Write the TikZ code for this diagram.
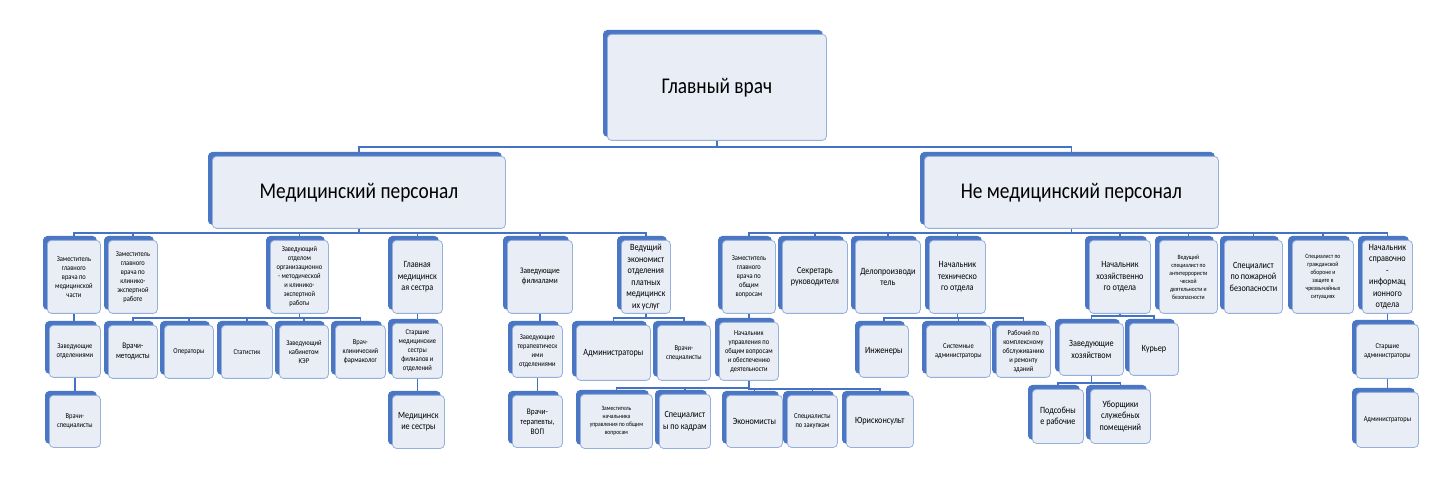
\documentclass[tikz,border=0pt]{standalone}
\usepackage{fontspec}
\setmainfont{Carlito}[FakeStretch=0.86]
\usetikzlibrary{shadows,backgrounds}

\definecolor{cardback}{RGB}{74,118,196}
\definecolor{cardfill}{RGB}{233,237,246}
\definecolor{cardline}{RGB}{150,176,222}
\definecolor{linkblue}{RGB}{68,114,196}

\tikzset{
  txs/.style={font=\fontsize{6.5}{8}\selectfont},
  txm/.style={font=\fontsize{7.5}{9}\selectfont},
  txn/.style={font=\fontsize{8.5}{10}\selectfont},
  txl/.style={font=\fontsize{9.5}{11.5}\selectfont},
  txh/.style={font=\fontsize{22.5}{26}\selectfont},
}

\begin{document}
\begin{tikzpicture}[x=1pt, y=-1pt,
    main/.style 2 args={draw=cardline, fill=cardfill, line width=0.8pt, rounded corners=4pt,
      minimum width=#1pt, minimum height=#2pt, anchor=north west, align=center, inner sep=1pt,
      copy shadow={shadow xshift=-4pt, shadow yshift=4pt, fill=cardback, draw=cardback}},
    link/.style={draw=linkblue, line width=1.3pt}]
  \useasboundingbox (0,0) rectangle (1435,502);

  \node[main={219}{106}, txh](0) at (607,34) {Главный врач};
  \node[main={293}{72}, txh](1) at (212,156) {Медицинский персонал};
  \node[main={294}{72}, txh](2) at (924,156) {Не медицинский персонал};

  % медицинский персонал
  \node[main={53}{73}, txm](11) at (47,240) {Заместитель\\главного\\врача по\\медицинской\\части};
  \node[main={49}{73}, txm](12) at (108,240) {Заместитель\\главного\\врача по\\клинико-\\экспертной\\работе};
  \node[main={58}{73}, txm](13) at (270,240) {Заведующий\\отделом\\организационно\\- методической\\и клинико-\\экспертной\\работы};
  \node[main={50}{73}, txl](14) at (392,240) {Главная\\медицинск\\ая сестра};
  \node[main={65}{73}, txn](15) at (507,240) {Заведующие\\филиалами};
  \node[main={49}{73}, txl](16) at (621,240) {Ведущий\\экономист\\отделения\\платных\\медицинск\\их услуг};

  \node[main={51}{52}, txm](111) at (49,325) {Заведующие\\отделениями};
  \node[main={51}{52}, txm](112) at (49,395) {Врачи-\\специалисты};
  \node[main={49}{53}, txn](131) at (108,325) {Врачи-\\методисты};
  \node[main={49}{53}, txm](132) at (164,325) {Операторы};
  \node[main={51}{53}, txm](133) at (221,325) {Статистик};
  \node[main={49}{53}, txm](134) at (279,325) {Заведующий\\кабинетом\\КЭР};
  \node[main={50}{53}, txm](135) at (335,325) {Врач-\\клинический\\фармаколог};
  \node[main={50}{55}, txm](141) at (392,323) {Старшие\\медицинские\\сестры\\филиалов и\\отделений};
  \node[main={52}{53}, txl](142) at (392,395) {Медицинск\\ие сестры};
  \node[main={50}{52}, txm](151) at (512,325) {Заведующие\\терапевтическ\\ими\\отделениями};
  \node[main={50}{52}, txn](152) at (512,395) {Врачи-\\терапевты,\\ВОП};
  \node[main={74}{55}, txl](161) at (576,325) {Администраторы};
  \node[main={53}{55}, txm](162) at (657,325) {Врачи-\\специалисты};

  % не медицинский персонал
  \node[main={53}{73}, txm](21) at (722,240) {Заместитель\\главного\\врача по\\общим\\вопросам};
  \node[main={65}{73}, txl](22) at (782,240) {Секретарь\\руководителя};
  \node[main={65}{73}, txl](23) at (855,240) {Делопроизводи\\тель};
  \node[main={56}{73}, txl](24) at (929,240) {Начальник\\техническо\\го отдела};
  \node[main={61}{73}, txl](25) at (1089,240) {Начальник\\хозяйственно\\го отдела};
  \node[main={58}{73}, txs](26) at (1159,240) {Ведущий\\специалист по\\антитеррористи\\ческой\\деятельности и\\безопасности};
  \node[main={58}{73}, txl](27) at (1224,240) {Специалист\\по пожарной\\безопасности};
  \node[main={61}{73}, txs](28) at (1292,240) {Специалист по\\гражданской\\обороне и\\защите в\\чрезвычайных\\ситуациях};
  \node[main={50}{73}, txl](29) at (1362,240) {Начальник\\справочно\\-\\информац\\ионного\\отдела};

  \node[main={59}{58}, txm](211) at (719,322) {Начальник\\управления по\\общим вопросам\\и обеспечению\\деятельности};
  \node[main={72}{54}, txs](2111) at (580,394) {Заместитель\\начальника\\управления по общим\\вопросам};
  \node[main={51}{54}, txl](2112) at (659,394) {Специалист\\ы по кадрам};
  \node[main={56}{52}, txl](2113) at (726,395) {Экономисты};
  \node[main={50}{52}, txm](2114) at (787,395) {Специалисты\\по закупкам};
  \node[main={67}{52}, txl](2115) at (846,395) {Юрисконсульт};
  \node[main={49}{52}, txl](241) at (859,325) {Инженеры};
  \node[main={64}{52}, txm](242) at (926,325) {Системные\\администраторы};
  \node[main={54}{52}, txm](243) at (996,325) {Рабочий по\\комплексному\\обслуживанию\\и ремонту\\зданий};
  \node[main={64}{52}, txl](251) at (1059,323) {Заведующие\\хозяйством};
  \node[main={49}{52}, txl](252) at (1129,323) {Курьер};
  \node[main={51}{54}, txl](2511) at (1032,389) {Подсобны\\е рабочие};
  \node[main={60}{54}, txl](2512) at (1090,389) {Уборщики\\служебных\\помещений};
  \node[main={62}{54}, txm](291) at (1356,324) {Старшие\\администраторы};
  \node[main={62}{55}, txm](292) at (1356,392) {Администраторы};

  \begin{scope}[on background layer]
    \foreach \c in {1,2} \draw[link] (0.south) |- ([yshift=9pt]\c.north) -- (\c.north);
    \foreach \c in {11,12,13,14,15,16} \draw[link] (1.south) |- ([yshift=7pt]\c.north) -- (\c.north);
    \foreach \c in {21,22,23,24,25,26,27,28,29} \draw[link] (2.south) |- ([yshift=7pt]\c.north) -- (\c.north);
    \foreach \c in {131,132,133,134,135} \draw[link] (13.south) |- ([yshift=7pt]\c.north) -- (\c.north);
    \foreach \c in {161,162} \draw[link] (16.south) |- ([yshift=7pt]\c.north) -- (\c.north);
    \foreach \c in {2111,2112,2113,2114,2115} \draw[link] (211.south) |- ([yshift=6pt]\c.north) -- (\c.north);
    \foreach \c in {241,242,243} \draw[link] (24.south) |- ([yshift=7pt]\c.north) -- (\c.north);
    \foreach \c in {251,252} \draw[link] (25.south) |- ([yshift=7pt]\c.north) -- (\c.north);
    \foreach \c in {2511,2512} \draw[link] (251.south) |- ([yshift=6pt]\c.north) -- (\c.north);
    \draw[link] (11.south) -- (11.south |- 111.north);
    \draw[link] (111.south) -- (111.south |- 112.north);
    \draw[link] (14.south) -- (14.south |- 141.north);
    \draw[link] (141.south) -- (141.south |- 142.north);
    \draw[link] (15.south) -- (15.south |- 151.north);
    \draw[link] (151.south) -- (151.south |- 152.north);
    \draw[link] (21.south) -- (21.south |- 211.north);
    \draw[link] (29.south) -- (29.south |- 291.north);
    \draw[link] (291.south) -- (291.south |- 292.north);
  \end{scope}
\end{tikzpicture}
\end{document}
